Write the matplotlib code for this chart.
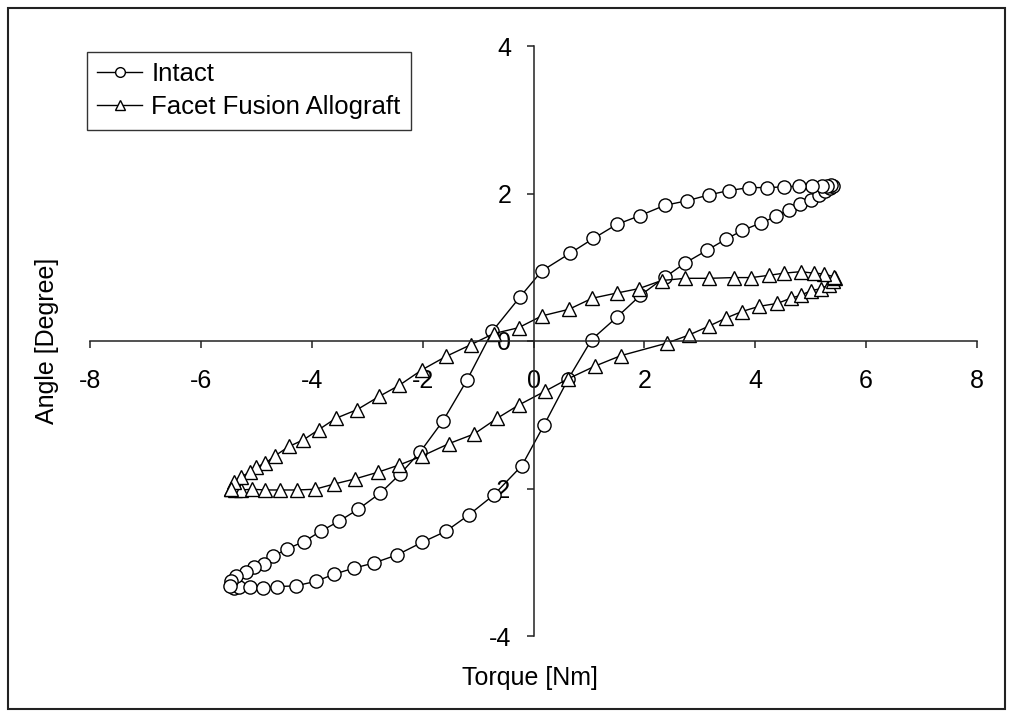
import matplotlib
matplotlib.use("Agg")
import matplotlib.pyplot as plt
from matplotlib.patches import Rectangle

plt.rcParams['font.family'] = ['Liberation Sans', 'DejaVu Sans']
plt.rcParams['axes.unicode_minus'] = False

# ---- data: Intact (closed hysteresis loop) ----
intact_x = [-5.45, -5.40, -5.31, -5.11, -4.88, -4.62, -4.29, -3.93, -3.59, -3.24,
            -2.88, -2.46, -2.01, -1.58, -1.17, -0.72, -0.21, 0.19, 0.63, 1.05,
            1.50, 1.93, 2.38, 2.74, 3.13, 3.47, 3.77, 4.10, 4.38, 4.60,
            4.81, 5.00, 5.15, 5.26, 5.34, 5.39,
            5.41, 5.36, 5.30, 5.20, 5.03, 4.79, 4.52, 4.22, 3.89, 3.52,
            3.16, 2.76, 2.37, 1.92, 1.50, 1.08, 0.66, 0.15, -0.24, -0.74,
            -1.20, -1.63, -2.04, -2.40, -2.76, -3.16, -3.50, -3.84, -4.14, -4.45,
            -4.69, -4.86, -5.04, -5.19, -5.37, -5.45, -5.47]
intact_y = [-3.32, -3.35, -3.34, -3.33, -3.35, -3.33, -3.32, -3.26, -3.16, -3.08,
            -3.01, -2.90, -2.73, -2.58, -2.36, -2.09, -1.69, -1.14, -0.51, 0.02,
            0.32, 0.62, 0.87, 1.06, 1.23, 1.38, 1.50, 1.60, 1.69, 1.78,
            1.86, 1.91, 1.98, 2.04, 2.08, 2.10,
            2.10, 2.11, 2.10, 2.10, 2.10, 2.10, 2.09, 2.08, 2.08, 2.04,
            1.98, 1.90, 1.84, 1.70, 1.58, 1.39, 1.19, 0.95, 0.60, 0.135,
            -0.53, -1.08, -1.50, -1.80, -2.06, -2.28, -2.44, -2.58, -2.72, -2.82,
            -2.92, -3.03, -3.07, -3.13, -3.19, -3.26, -3.32]

# ---- data: Facet Fusion Allograft (closed hysteresis loop) ----
facet_x = [-5.46, -5.38, -5.28, -5.07, -4.84, -4.58, -4.26, -3.94, -3.60, -3.22,
           -2.81, -2.42, -2.01, -1.52, -1.07, -0.66, -0.27, 0.21, 0.63, 1.11,
           1.57, 2.40, 2.80, 3.16, 3.47, 3.76, 4.07, 4.40, 4.64, 4.82,
           5.00, 5.18, 5.33, 5.40, 5.43,
           5.42, 5.24, 5.06, 4.82, 4.52, 4.24, 3.93, 3.61, 3.17, 2.74,
           2.31, 1.90, 1.50, 1.06, 0.64, 0.15, -0.27, -0.72, -1.13, -1.58,
           -2.01, -2.42, -2.78, -3.18, -3.57, -3.87, -4.15, -4.41, -4.67, -4.84,
           -5.01, -5.11, -5.28, -5.40, -5.46]
facet_y = [-2.00, -2.02, -2.02, -2.01, -2.02, -2.02, -2.02, -2.01, -1.94, -1.87,
           -1.78, -1.68, -1.56, -1.39, -1.26, -1.05, -0.87, -0.68, -0.51, -0.34,
           -0.20, -0.03, 0.08, 0.20, 0.31, 0.40, 0.47, 0.51, 0.58, 0.62,
           0.68, 0.71, 0.76, 0.81, 0.85,
           0.87, 0.91, 0.92, 0.94, 0.92, 0.89, 0.86, 0.86, 0.85, 0.85,
           0.82, 0.71, 0.65, 0.58, 0.43, 0.34, 0.18, 0.10, -0.05, -0.21,
           -0.39, -0.60, -0.75, -0.93, -1.05, -1.20, -1.34, -1.43, -1.56, -1.66,
           -1.71, -1.78, -1.84, -1.91, -2.00]

x_ticks = [-8, -6, -4, -2, 0, 2, 4, 6, 8]
y_ticks = [-4, -2, 0, 2, 4]
series_labels = ["Intact", "Facet Fusion Allograft"]
x_title = "Torque [Nm]"
y_title = "Angle [Degree]"

W, H = 1013, 717
fig = plt.figure(figsize=(W / 100, H / 100), dpi=100)
ax = fig.add_axes([90 / W, 1 - 636 / H, (977 - 90) / W, (636 - 46) / H])

ax.plot(intact_x, intact_y, color='black', lw=1.0, marker='o', ms=9.5,
        mfc='white', mec='black', mew=1.0, label=series_labels[0])
ax.plot(facet_x, facet_y, color='black', lw=1.0, marker='^', ms=10.5,
        mfc='white', mec='black', mew=1.0, label=series_labels[1])

ax.set_xlim(-8, 8)
ax.set_ylim(-4, 4)
ax.set_xticks(x_ticks)
ax.set_yticks(y_ticks)
ax.set_xticklabels([str(v) for v in x_ticks])
ax.set_yticklabels([str(v) for v in y_ticks])

for s in ['top', 'right']:
    ax.spines[s].set_visible(False)
ax.spines['left'].set_position(('data', 0))
ax.spines['bottom'].set_position(('data', 0))
for s in ['left', 'bottom']:
    ax.spines[s].set_color('#222222')
    ax.spines[s].set_linewidth(1.1)
ax.tick_params(axis='x', direction='out', length=5, width=1.1, color='#222222',
               pad=15, labelsize=18)
ax.tick_params(axis='y', direction='out', length=5, width=1.1, color='#222222',
               pad=11, labelsize=18)
ax.patch.set_visible(False)

fig.text(530 / W, 1 - 678 / H, x_title, ha='center', va='center', fontsize=18)
fig.text(47 / W, 1 - 341 / H, y_title, ha='center', va='center', rotation=90,
         fontsize=18)

leg = ax.legend(loc='upper left', bbox_to_anchor=(87 / W, 1 - 52 / H),
                bbox_transform=fig.transFigure, borderaxespad=0, frameon=True,
                fancybox=False, shadow=False, fontsize=18.5, handlelength=1.75,
                handletextpad=0.35, borderpad=0.4, labelspacing=0.35)
leg.get_frame().set_edgecolor('black')
leg.get_frame().set_linewidth(1.0)
for h in leg.legend_handles:
    h.set_markersize(7)

fig.patches.append(Rectangle((8 / W, 8 / H), (W - 16) / W, (H - 16) / H,
                             transform=fig.transFigure, fill=False,
                             edgecolor='#222222', linewidth=1.5))

fig.savefig("out.png", dpi=100)
